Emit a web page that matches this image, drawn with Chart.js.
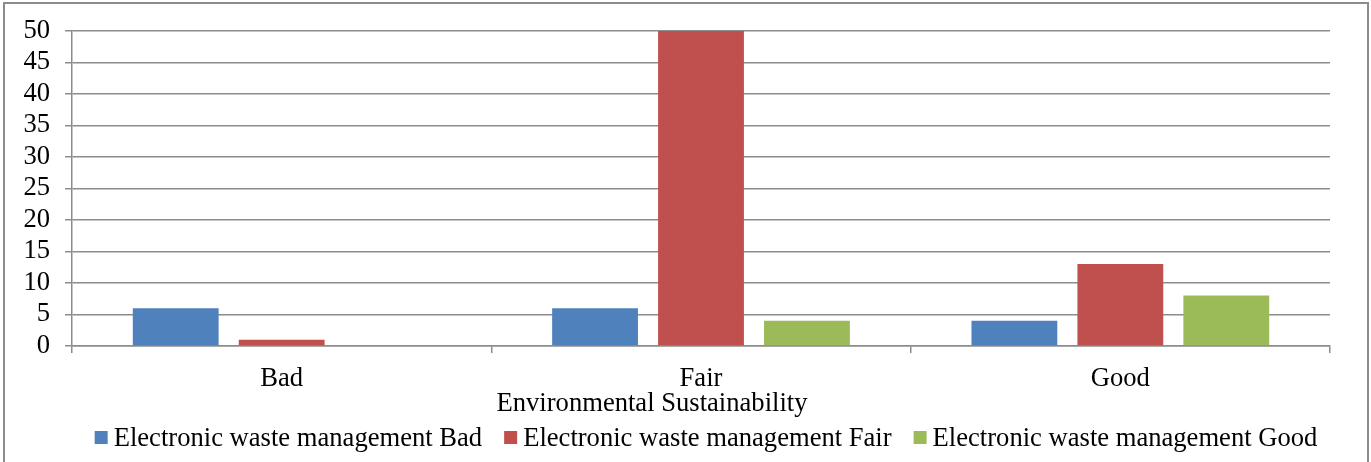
<!DOCTYPE html>
<html>
<head>
<meta charset="utf-8">
<script src="https://cdn.jsdelivr.net/npm/chart.js@4.4.0/dist/chart.umd.min.js"></script>
<style>
  html, body { margin: 0; padding: 0; background: #ffffff; }
  #wrap { width: 1371px; height: 462px; position: relative; }
</style>
</head>
<body>
<div id="wrap"><canvas id="chart" width="1371" height="462"></canvas></div>
<script>
// Categories on the x axis (Environmental Sustainability rating)
const categories = ['Bad', 'Fair', 'Good'];

// Counts per Electronic waste management rating
const ewmBad  = [6, 6, 4];
const ewmFair = [1, 50, 13];
const ewmGood = [0, 4, 8];

const seriesNames = [
  'Electronic waste management Bad',
  'Electronic waste management Fair',
  'Electronic waste management Good'
];
const seriesColors = ['#4f81bd', '#c0504d', '#9bbb59'];

const axisTitle = 'Environmental Sustainability';

const FONT = '"Liberation Serif", "Times New Roman", serif';
const FONT_SIZE = 26.6;
const GRID = '#8c8c8c';

// Frame around the figure, x axis title and a compact legend row
const decorPlugin = {
  id: 'decor',
  beforeDraw(chart) {
    const ctx = chart.ctx;
    ctx.save();
    ctx.fillStyle = '#ffffff';
    ctx.fillRect(0, 0, chart.width, chart.height);
    ctx.strokeStyle = '#8c8c8c';
    ctx.lineWidth = 2;
    ctx.strokeRect(4, 3, 1364, 520);
    ctx.restore();
  },
  afterDraw(chart) {
    const ctx = chart.ctx;
    const area = chart.chartArea;
    const mid = (area.left + area.right) / 2;
    ctx.save();
    ctx.fillStyle = '#000000';
    ctx.font = FONT_SIZE + 'px ' + FONT;
    ctx.textBaseline = 'alphabetic';

    // axis title under the category labels
    ctx.textAlign = 'center';
    ctx.fillText(axisTitle, mid - 49, area.bottom + 65);

    // legend: square swatch, small gap, label; items separated by a wider gap
    const box = 13, gapText = 6, gapItem = 22;
    const items = chart.data.datasets.map(ds => ({
      text: ds.label, color: ds.backgroundColor, w: ctx.measureText(ds.label).width
    }));
    const total = items.reduce((s, it) => s + box + gapText + it.w, 0) + gapItem * (items.length - 1);
    let x = mid + 5 - total / 2;
    const baseline = area.bottom + 100;
    ctx.textAlign = 'left';
    items.forEach(it => {
      ctx.fillStyle = it.color;
      ctx.fillRect(x, baseline - 15, box, box);
      ctx.fillStyle = '#000000';
      ctx.fillText(it.text, x + box + gapText, baseline);
      x += box + gapText + it.w + gapItem;
    });
    ctx.restore();
  }
};

new Chart(document.getElementById('chart'), {
  type: 'bar',
  data: {
    labels: categories,
    datasets: [
      { label: seriesNames[0], data: ewmBad,  backgroundColor: seriesColors[0] },
      { label: seriesNames[1], data: ewmFair, backgroundColor: seriesColors[1] },
      { label: seriesNames[2], data: ewmGood, backgroundColor: seriesColors[2] }
    ]
  },
  options: {
    responsive: false,
    animation: false,
    devicePixelRatio: 1,
    categoryPercentage: 0.758,
    barPercentage: 0.81,
    layout: { padding: { top: 31, right: 41, left: 0, bottom: 54 } },
    plugins: {
      legend: { display: false },
      tooltip: { enabled: false }
    },
    scales: {
      x: {
        grid: {
          display: true,
          offset: true,
          drawOnChartArea: false,
          drawTicks: true,
          tickLength: 7,
          color: GRID,
          lineWidth: 1.5
        },
        border: { display: true, color: GRID, width: 1.5 },
        ticks: {
          color: '#000000',
          padding: 10,
          font: { family: FONT, size: FONT_SIZE }
        },
        afterFit(scale) { scale.height = 62; }
      },
      y: {
        min: 0,
        max: 50,
        ticks: {
          stepSize: 5,
          autoSkip: false,
          color: '#000000',
          padding: 15,
          font: { family: FONT, size: FONT_SIZE }
        },
        grid: {
          color: GRID,
          lineWidth: 1.5,
          tickLength: 7,
          drawTicks: true
        },
        border: { display: true, color: GRID, width: 1.5 },
        afterFit(scale) { scale.width = 72; }
      }
    }
  },
  plugins: [decorPlugin]
});
</script>
</body>
</html>
